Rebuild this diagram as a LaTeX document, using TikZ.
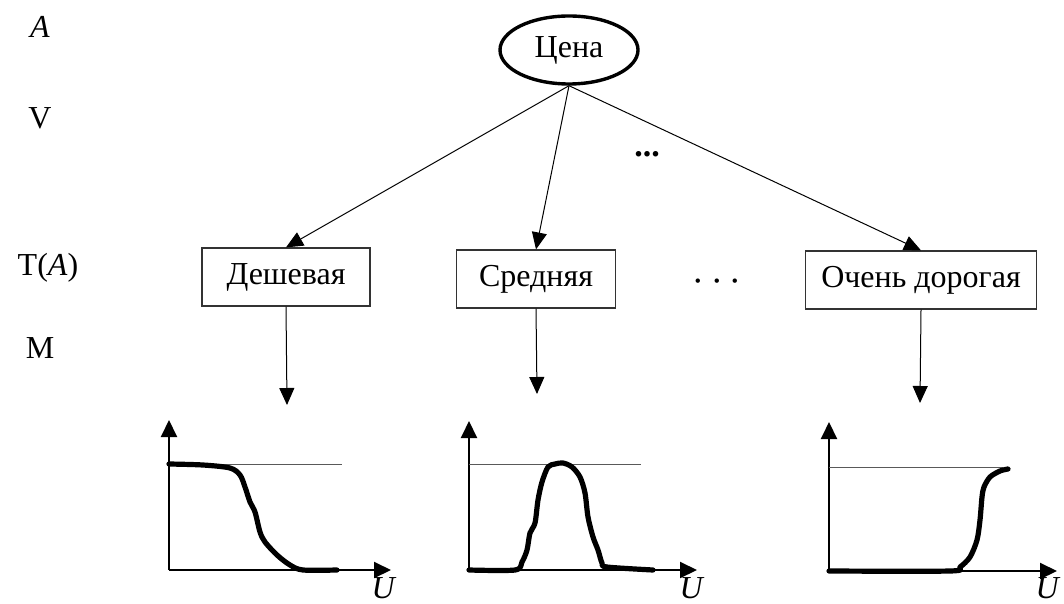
\documentclass[tikz,border=0pt]{standalone}
\usepackage{fontspec}
\setmainfont{Liberation Serif}
\usepackage{tikz}
\usetikzlibrary{
	arrows.meta,									% 箭头样式
	shapes.geometric,								% 椭圆
	positioning,									% 节点摆放
}
\tikzset{
	term/.style={draw=black!80, line width=0.6pt, minimum height=29pt, inner sep=2pt},
	conn/.style={line width=0.5pt, -{Triangle[length=8.5pt, width=7.5pt]}},
	axis/.style={line width=1pt, -{Triangle[length=8.5pt, width=8pt]}},
	level/.style={line width=0.5pt, black!65},
	memb/.style={line width=2.6pt, line cap=round, line join=round},
}
\begin{document}
\begin{tikzpicture}[x=0.5pt, y=-0.5pt, font=\fontsize{16}{19}\selectfont]
		\useasboundingbox (0,0) rectangle (1064,604);
		% 左侧标记
		\node (lA) at (40,27)  {\textit{A}};
		\node (lV) at (40,118) {V};
		\node (lT) at (48,268) {T(\textit{A})};
		\node (lM) at (40,348) {M};
		% 语言变量与项
		\node[ellipse, draw, line width=1.7pt, minimum width=69pt, minimum height=34pt, inner sep=1pt] (cena) at (569,50) {Цена};
		\node[term, minimum width=84pt]    (cheap)  at (286,277) {Дешевая};
		\node[term, minimum width=79.5pt]  (middle) at (536,279) {Средняя};
		\node[term, minimum width=115.5pt] (costly) at (921,280) {Очень дорогая};
		\node[font=\fontsize{17}{19}\selectfont\bfseries] (dotsV) at (647,154) {...};
		\node[font=\fontsize{21}{23}\selectfont] (dotsT) at (717,282) {$\cdots$};
		\draw[conn] (cena.south) -- (cheap.north);
		\draw[conn] (cena.south) -- (middle.north);
		\draw[conn] (cena.south) -- (costly.north);
		% 隶属函数
		\coordinate (m1) at (287,405);
		\coordinate (m2) at (537,394);
		\coordinate (m3) at (920,403);
		\draw[conn] (cheap.south)  -- (m1);
		\draw[conn] (middle.south) -- (m2);
		\draw[conn] (costly.south) -- (m3);
		\draw[axis] (169,570) -- (169,420);
		\draw[axis] (169,570) -- (391,570);
		\node (u1) at (384,588) {\textit{U}};
		\draw[level] (169,464) -- (342,464);
		\draw[memb] plot[smooth, tension=0.5] coordinates {(169,464) (203,465) (230,468) (240,475) (245,487) (250,502) (255,512) (260,532) (265,542) (277,555) (290,565) (303,570) (337,570)};
		\draw[axis] (469,570) -- (469,421);
		\draw[axis] (469,570) -- (697,570);
		\node (u2) at (692,588) {\textit{U}};
		\draw[level] (469,464) -- (641,464);
		\draw[memb] plot[smooth, tension=0.5] coordinates {(469,570) (515,570) (522,562) (527,550) (530,533) (535,523) (538,500) (542,482) (548,467) (555,464) (563,463) (572,467) (580,477) (585,493) (588,517) (593,537) (598,550) (602,563) (607,567) (653,570)};
		\draw[axis] (829,571) -- (829,422);
		\draw[axis] (829,571) -- (1057,571);
		\node (u3) at (1048,588) {\textit{U}};
		\draw[level] (829,467) -- (1003,467);
		\draw[memb] plot[smooth, tension=0.5] coordinates {(829,571) (950,571) (960,567) (970,557) (977,540) (980,520) (982,497) (984,487) (990,477) (1000,471) (1008,469)};
	\end{tikzpicture}
\end{document}
